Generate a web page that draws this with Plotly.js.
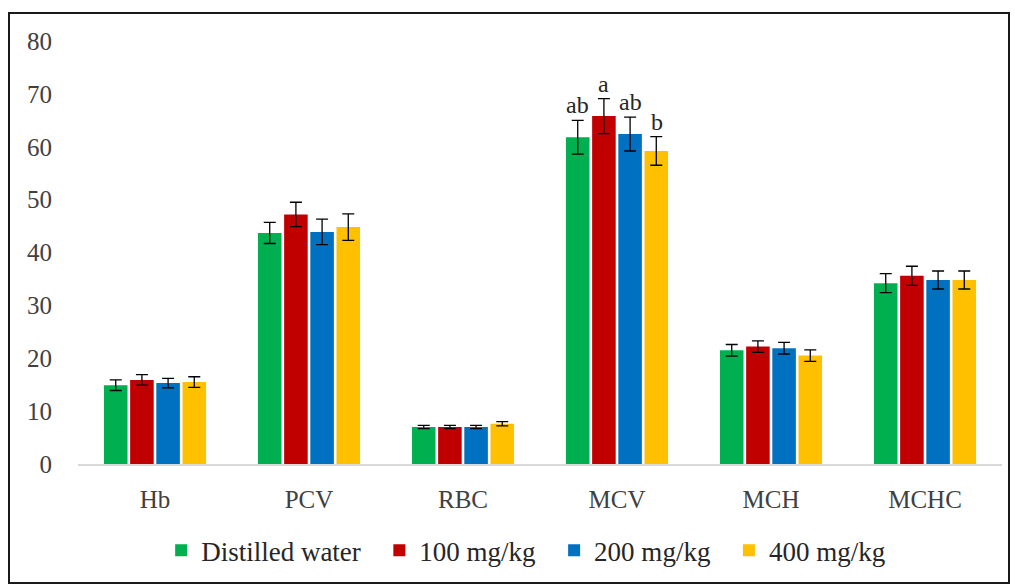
<!DOCTYPE html>
<html><head><meta charset="utf-8">
<script src="https://cdn.plot.ly/plotly-3.0.1.min.js"></script>
<style>
body{margin:0;padding:0;background:#fff;}
#frame{position:absolute;left:8px;top:12px;width:998px;height:568px;border:2px solid #1a1a1a;}
#plot{position:absolute;left:0;top:0;width:1015px;height:585px;}
</style></head>
<body>
<div id="plot"></div>
<div id="frame"></div>
<script>
const categories = ["Hb","PCV","RBC","MCV","MCH","MCHC"];
const seriesNames = ["Distilled water","100 mg/kg","200 mg/kg","400 mg/kg"];
const distilledWater = [14.9, 43.7, 7.0, 61.8, 21.5, 34.2];
const dose100 = [15.9, 47.2, 7.0, 65.8, 22.2, 35.6];
const dose200 = [15.3, 43.9, 7.0, 62.4, 21.9, 34.8];
const dose400 = [15.5, 44.8, 7.6, 59.2, 20.5, 34.8];
const errDistilled = [1.0, 2.0, 0.3, 3.2, 1.1, 1.8];
const err100 = [1.0, 2.3, 0.3, 3.3, 1.1, 1.8];
const err200 = [0.9, 2.4, 0.3, 3.2, 1.1, 1.7];
const err400 = [1.0, 2.5, 0.4, 2.7, 1.1, 1.7];
const mcvLetters = ["ab","a","ab","b"];
const colors = ["#00B050","#C00000","#0070C0","#FFC000"];

const values = [distilledWater, dose100, dose200, dose400];
const errs = [errDistilled, err100, err200, err400];
const FONT = "Liberation Serif, serif";

const traces = values.map((v,i)=>({
  type:"bar", name:seriesNames[i] + (i<3 ? "\u00a0\u00a0" : ""), x:categories, y:v,
  marker:{color:colors[i]},
  error_y:{type:"data", array:errs[i], visible:true, color:"#000", thickness:1.3, width:6}
}));

const mcvIdx = categories.indexOf("MCV");
const annotations = mcvLetters.map((t,i)=>({
  xref:"x", yref:"y", x:mcvIdx, y:values[i][mcvIdx]+errs[i][mcvIdx],
  xshift:(i-1.5)*26.5, yanchor:"bottom", showarrow:false, text:t,
  font:{family:FONT, size:24, color:"#262626"}, yshift:0
}));

const layout = {
  width:1015, height:585,
  margin:{l:78, r:13, t:41, b:121, autoexpand:false},
  paper_bgcolor:"#fff", plot_bgcolor:"#fff",
  barmode:"group", bargap:0.32, bargroupgap:0.1,
  showlegend:true,
  legend:{orientation:"h", x:0.485, xanchor:"center", y:-0.205, yanchor:"middle",
    font:{family:FONT, size:27, color:"#262626"}, itemwidth:30, traceorder:"normal"},
  xaxis:{type:"category", showline:true, linecolor:"#d9d9d9", linewidth:1.5, ticks:"",
    tickfont:{family:FONT, size:25, color:"#404040"}, ticklabelstandoff:12, showgrid:false,
    zeroline:false},
  yaxis:{range:[0,80], dtick:10, showgrid:false, zeroline:false, showline:false, ticks:"",
    tickfont:{family:FONT, size:25, color:"#404040"}, ticklabelstandoff:25},
  annotations:annotations,
  font:{family:FONT}
};
Plotly.newPlot("plot", traces, layout, {displayModeBar:false, staticPlot:true});
</script>
</body></html>
